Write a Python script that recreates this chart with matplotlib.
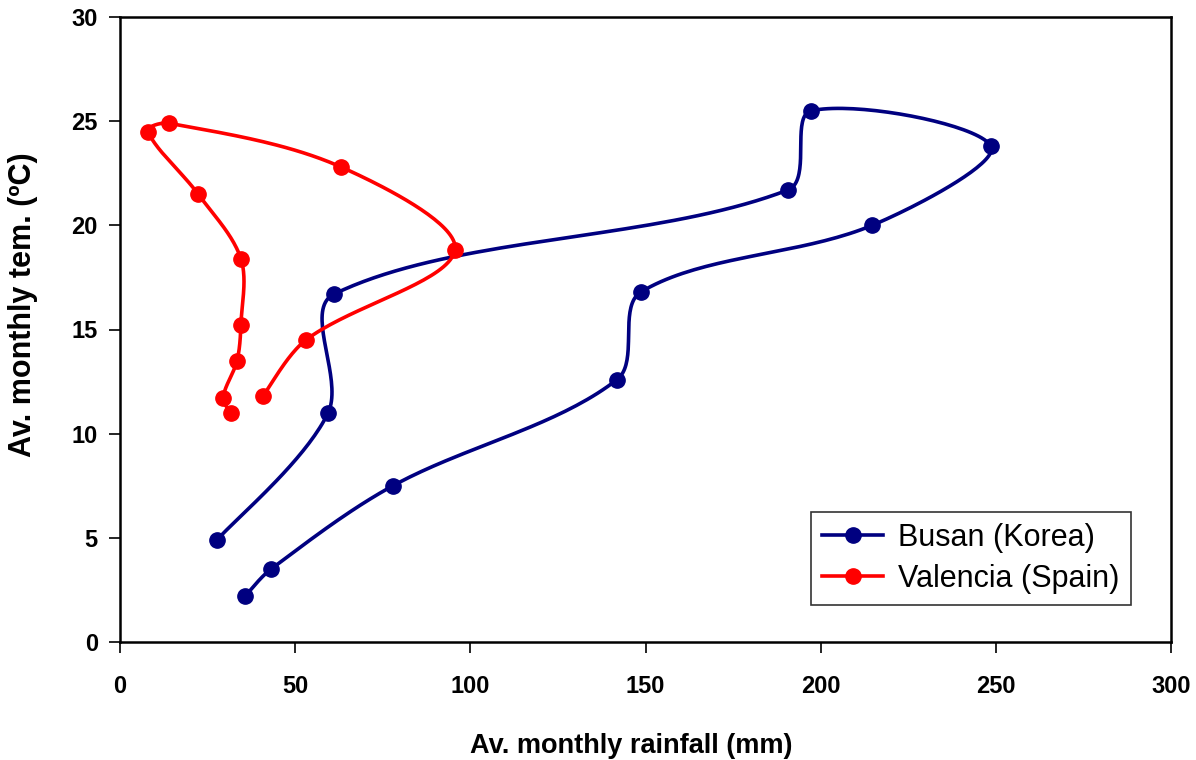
import numpy as np
import matplotlib
matplotlib.use('Agg')
import matplotlib.pyplot as plt

plt.rcParams['font.family'] = ['Liberation Sans', 'DejaVu Sans']

#%% data (Jan..Dec)
busan_rain = [35.7, 43.1, 77.9, 141.9, 148.7, 214.7, 248.6, 197.3, 190.7, 61.1, 59.4, 27.7]
busan_temp = [2.2, 3.5, 7.5, 12.6, 16.8, 20.0, 23.8, 25.5, 21.7, 16.7, 11.0, 4.9]

valencia_rain = [31.7, 29.4, 33.4, 34.5, 34.5, 22.3, 8.0, 14.0, 63.1, 95.6, 53.1, 40.8]
valencia_temp = [11.0, 11.7, 13.5, 15.2, 18.4, 21.5, 24.5, 24.9, 22.8, 18.8, 14.5, 11.8]

x_ticks = [0, 50, 100, 150, 200, 250, 300]
y_ticks = [0, 5, 10, 15, 20, 25, 30]

#%%
def smooth(xs, ys, sx, sy, n=40):
    '''smoothed line like excel: cubic bezier, control points weighted by chord length (screen units)'''
    p = np.column_stack([np.asarray(xs) * sx, np.asarray(ys) * sy])
    pts = []
    for i in range(len(p) - 1):
        p0 = p[i - 1] if i > 0 else p[i]
        p1, p2 = p[i], p[i + 1]
        p3 = p[i + 2] if i + 2 < len(p) else p[i + 1]
        d01 = np.hypot(*(p1 - p0))
        d12 = np.hypot(*(p2 - p1))
        d23 = np.hypot(*(p3 - p2))
        f1 = d12 / (d01 + d12) / 3.0 if d01 > 0 else 1 / 6.0
        f2 = d12 / (d12 + d23) / 3.0 if d23 > 0 else 1 / 6.0
        c1 = p1 + (p2 - p0) * f1
        c2 = p2 - (p3 - p1) * f2
        t = np.linspace(0, 1, n)[:, None]
        seg = ((1 - t) ** 3) * p1 + 3 * ((1 - t) ** 2) * t * c1 + 3 * (1 - t) * t ** 2 * c2 + t ** 3 * p2
        pts.append(seg if i == 0 else seg[1:])
    pts = np.vstack(pts)
    return pts[:, 0] / sx, pts[:, 1] / sy


fig = plt.figure(figsize=(11.96, 7.6), dpi=100)
ax = fig.add_axes([120 / 1196, 118 / 760, 1051 / 1196, 625 / 760])

sx, sy = 1051 / 300.0, 625 / 30.0
series = [
    (busan_rain, busan_temp, '#000080', 'Busan (Korea)'),
    (valencia_rain, valencia_temp, '#FF0000', 'Valencia (Spain)'),
]
for xs, ys, col, lab in series:
    cx, cy = smooth(xs, ys, sx, sy)
    ax.plot(cx, cy, color=col, lw=2.6, solid_capstyle='round', zorder=2)
    ax.plot(xs, ys, 'o', color=col, ms=11, zorder=3)
    ax.plot([], [], '-o', color=col, lw=2.6, ms=11, label=lab)

ax.set_xlim(0, 300)
ax.set_ylim(0, 30)
ax.set_xticks(x_ticks)
ax.set_yticks(y_ticks)
ax.tick_params(axis='x', direction='out', length=8, width=1.2, pad=16, labelsize=17)
ax.tick_params(axis='y', direction='out', length=8, width=1.2, pad=8, labelsize=17)
for lbl in ax.get_xticklabels() + ax.get_yticklabels():
    lbl.set_fontweight('bold')
for sp in ax.spines.values():
    sp.set_linewidth(1.8)

ax.set_xlabel('Av. monthly rainfall (mm)', fontsize=19.5, fontweight='bold')
ax.set_ylabel('Av. monthly tem. (ºC)', fontsize=22, fontweight='bold')
ax.xaxis.set_label_coords(0.486, -0.145)
ax.yaxis.set_label_coords(-0.078, 0.54)

leg = ax.legend(loc='lower right', bbox_to_anchor=(0.9615, 0.06), fontsize=22, frameon=True,
                fancybox=False, edgecolor='black', handlelength=2.0, borderpad=0.35,
                labelspacing=0.35, handletextpad=0.5, borderaxespad=0)
leg.get_frame().set_linewidth(1.2)

fig.savefig('out.png', dpi=100)
